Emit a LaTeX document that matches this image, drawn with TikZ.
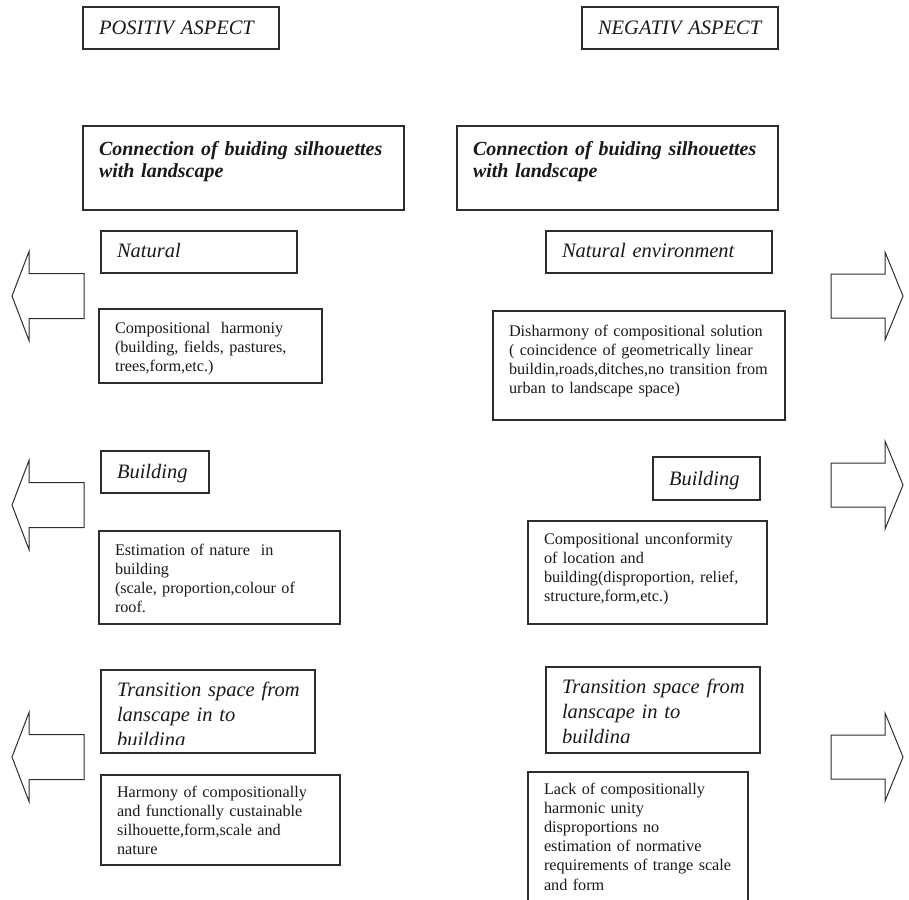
\documentclass[tikz,border=0pt]{standalone}
\usepackage{fontspec}
\setmainfont{Liberation Serif}
\usetikzlibrary{positioning}
\definecolor{inkgray}{RGB}{25,25,25}
\definecolor{framegray}{RGB}{45,45,45}

\begin{document}
\begin{tikzpicture}[
    x=1pt, y=-1pt,
    box/.style n args={3}{rectangle, draw=framegray, line width=1.3pt, outer sep=0pt, anchor=north west, inner xsep=0pt, inner ysep=0pt, align=left, text=inkgray, text width=#1, text height=#2, text depth=#3, execute at begin node={\leftskip=16pt\relax}},
    aspect/.style={font=\fontsize{20.5}{25}\selectfont\itshape},
    linkhead/.style={font=\fontsize{20}{22}\selectfont\bfseries\itshape},
    subhead/.style={font=\fontsize{20.5}{25}\selectfont\itshape},
    note/.style={font=\fontsize{16.2}{19.2}\selectfont},
    blockarr/.style={draw=framegray, line width=1pt, line join=miter},
]
\clip (0,0) rectangle (909,899);

% aspects
\node[box={196pt}{28pt}{14pt}, aspect] (pa) at (83,7) {POSITIV ASPECT};
\node[box={196pt}{28pt}{14pt}, aspect] (na) at (582,7) {NEGATIV ASPECT};

\node[box={321pt}{29pt}{55pt}, linkhead] (pc) at (83,126) {Connection of buiding silhouettes\\with landscape};
\node[box={321pt}{29pt}{55pt}, linkhead] (nc) at (457,126) {Connection of buiding silhouettes\\with landscape};

% positive side
\node[box={196pt}{26pt}{16pt}, subhead] (p1) at (101,231) {Natural};
\node[box={223pt}{24pt}{50pt}, note] (p1n) at (99,309) {Compositional\ \ harmoniy\\(building, fields, pastures,\\trees,form,etc.)};
\node[box={108pt}{27pt}{15pt}, subhead] (p2) at (101,451) {Building};
\node[box={241pt}{24pt}{69pt}, note] (p2n) at (99,531) {Estimation of nature\ \ in\\building\\(scale, proportion,colour of\\roof.};
\begin{scope}
  \clip (90,660) rectangle (330,744);
  \node[box={214pt}{26pt}{57pt}, subhead, draw=none] (p3) at (101,670) {Transition space from\\lanscape in to\\building};
\end{scope}
\draw[framegray, line width=1.3pt] (p3.north west) rectangle (p3.south east);
\node[box={239pt}{22pt}{68pt}, note] (p3n) at (101,775) {Harmony of compositionally\\and functionally custainable\\silhouette,form,scale and\\nature};

% negative side
\node[box={226pt}{26pt}{16pt}, subhead] (n1) at (546,231) {Natural environment};
\node[box={292pt}{25pt}{84pt}, note] (n1n) at (493,311) {Disharmony of compositional solution\\( coincidence of geometrically linear\\buildin,roads,ditches,no transition from\\urban to landscape space)};
\node[box={107pt}{28pt}{15pt}, subhead] (n2) at (653,457) {Building};
\node[box={239pt}{23pt}{80pt}, note] (n2n) at (528,521) {Compositional unconformity\\of location and\\building(disproportion, relief,\\structure,form,etc.)};
\begin{scope}
  \clip (535,655) rectangle (775,742);
  \node[box={214pt}{26pt}{60pt}, subhead, draw=none] (n3) at (546,667) {Transition space from\\lanscape in to\\building};
\end{scope}
\draw[framegray, line width=1.3pt] (n3.north west) rectangle (n3.south east);
\node[box={220pt}{22pt}{130pt}, note] (n3n) at (528,772) {Lack of compositionally\\harmonic unity\\disproportions no\\estimation of normative\\requirements of trange scale\\and form};

% block arrows
\foreach \y in {296,505,757}
  \draw[blockarr] (12,\y) -- (29,{\y-44.5}) -- (29,{\y-22.5}) -- (84,{\y-22.5}) -- (84,{\y+22.5}) -- (29,{\y+22.5}) -- (29,{\y+44.5}) -- cycle;
\foreach \y in {296,485,757}
  \draw[blockarr] (903,\y) -- (885,{\y-44}) -- (885,{\y-22}) -- (831,{\y-22}) -- (831,{\y+22}) -- (885,{\y+22}) -- (885,{\y+44}) -- cycle;

\end{tikzpicture}
\end{document}
